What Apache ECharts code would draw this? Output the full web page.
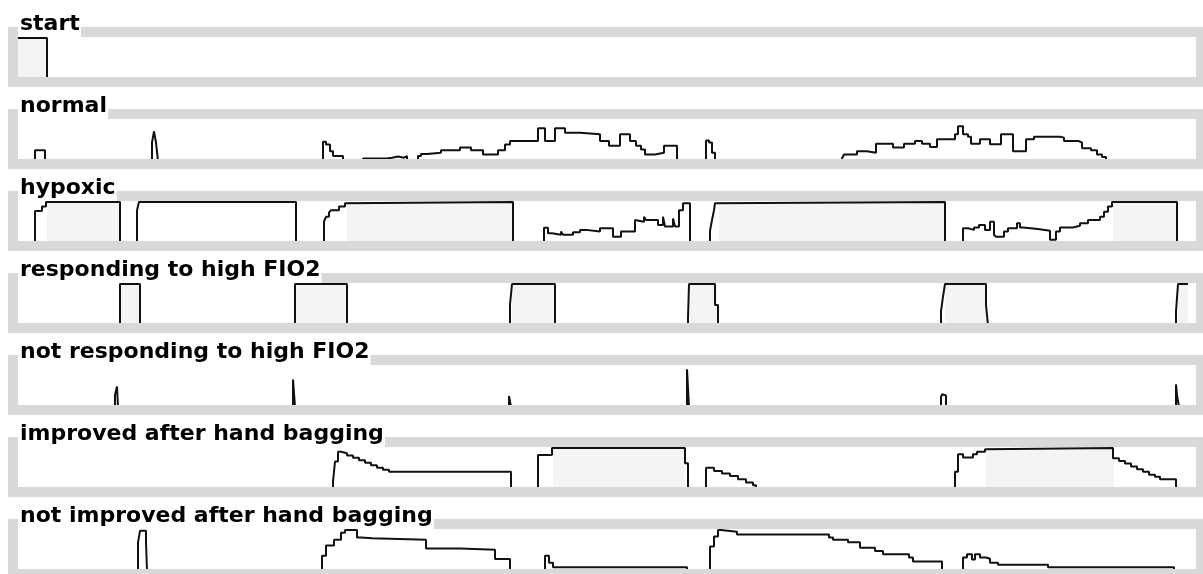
<!DOCTYPE html>
<html><head><meta charset="utf-8">
<script src="https://cdn.jsdelivr.net/npm/echarts@6/dist/echarts.min.js"></script>
<style>html,body{margin:0;padding:0;background:#fff}#c{width:1203px;height:574px}</style>
</head><body><div id="c"></div>
<script>
// ---- data (time units along a shared axis, values 0..1) ----
const timeMax = 1178;
const panelTitles = ["start", "normal", "hypoxic", "responding to high FIO2",
  "not responding to high FIO2", "improved after hand bagging", "not improved after hand bagging"];

const startValues = [[0,1],[29,0]];
const normalValues = [[0,0],[17,0.26],[27,0],
  [134,0.45],[136,0.72],[138,0.45],[140,0],
  [305,0.47],[308,0.4],[312,0.24],[315,0.12],[325,0],
  [345,0.06],[369,0.08],[374,0.11],[380,0.08],[386,0.12],[389,0],
  [400,0.12],[403,0.17],[409,0.2],[423,0.26],[442,0.33],[453,0.26],[465,0.16],[480,0.26],[487,0.4],[492,0.49],
  [520,0.8],[527,0.49],[537,0.8],[547,0.69],[562,0.65],[582,0.49],[591,0.37],[602,0.65],[612,0.49],[618,0.37],
  [623,0.28],[627,0.16],[637,0.2],[646,0.37],[659,0.06],[661,0],
  [688,0.5],[691,0.45],[694,0.2],[697,0],
  [824,0.06],[826,0.16],[839,0.24],[849,0.2],[858,0.42],[875,0.33],[886,0.42],[897,0.49],[904,0.42],[912,0.34],
  [919,0.53],[937,0.65],[940,0.85],[945,0.65],[950,0.59],[953,0.42],[962,0.53],[972,0.41],[983,0.65],[995,0.24],
  [1008,0.53],[1016,0.59],[1042,0.57],[1046,0.49],[1060,0.45],[1064,0.31],[1073,0.26],[1079,0.16],[1084,0.1],[1088,0]];
const hypoxicValues = [[0,0],[17,0.78],[24,0.89],[28,1],[102,0],
  [119,0.8],[121,1],[278,0],
  [306,0.52],[308,0.64],[311,0.74],[313,0.8],[321,0.89],[327,0.97],[329,1],[495,0],
  [526,0.37],[530,0.24],[534,0.2],[543,0.28],[545,0.2],[555,0.26],[562,0.32],[568,0.28],[582,0.36],[595,0.15],
  [603,0.28],[617,0.56],[619,0.52],[626,0.64],[628,0.56],[640,0.44],[645,0.64],[647,0.4],[655,0.6],[657,0.4],
  [661,0.8],[665,0.97],[672,0],
  [692,0.3],[694,0.56],[696,0.8],[697,0.97],[699,1],[927,0],
  [945,0.36],[950,0.32],[956,0.38],[961,0.44],[967,0.32],[972,0.52],[976,0.2],[978,0.15],[986,0.28],[990,0.36],
  [999,0.48],[1002,0.38],[1005,0.34],[1020,0.3],[1032,0.08],[1038,0.28],[1042,0.38],[1055,0.42],[1062,0.48],
  [1070,0.56],[1082,0.64],[1086,0.76],[1090,0.89],[1094,1],[1159,0]];
const respondingValues = [[0,0],[102,1],[122,0],[277,1],[329,0],[492,0.5],[494,1],[537,0],
  [670,0.16],[671,1],[697,0.49],[700,0],[923,0.33],[925,0.69],[927,1],[968,0.49],[970,0],
  [1158,0.33],[1160,1],[1170,1]];
const notRespondingValues = [[0,0],[97,0.3],[99,0.5],[100,0],[275,0.67],[277,0],[491,0.27],[493,0],
  [669,0.92],[671,0],[923,0.24],[924,0.31],[926,0.28],[928,0],[1158,0.55],[1159,0.28],[1161,0]];
const improvedValues = [[0,0],[315,0.18],[317,0.67],[320,0.91],[323,0.87],[329,0.82],[335,0.76],[341,0.7],
  [347,0.64],[353,0.58],[359,0.52],[365,0.47],[371,0.42],[493,0],
  [520,0.83],[534,1],[667,0.63],[670,0],
  [688,0.52],[696,0.44],[704,0.38],[712,0.32],[720,0.24],[728,0.16],[735,0.09],[738,0],
  [937,0.42],[940,0.85],[945,0.77],[955,0.85],[959,0.91],[967,0.97],[968,1],[1095,0.75],[1101,0.68],[1107,0.62],
  [1113,0.55],[1119,0.48],[1125,0.42],[1131,0.35],[1137,0.3],[1142,0.24],[1158,0]];
const notImprovedValues = [[0,0],[120,0.7],[122,0.98],[128,0.7],[129,0],
  [304,0.37],[308,0.62],[316,0.76],[323,0.93],[327,1],[339,0.82],[343,0.8],[354,0.76],[408,0.55],[442,0.52],[477,0.29],[492,0],
  [527,0.37],[531,0.2],[535,0.09],[669,0],
  [692,0.6],[696,0.84],[700,1],[703,0.96],[719,0.89],[811,0.82],[815,0.76],[830,0.7],[842,0.57],[857,0.49],[865,0.41],
  [891,0.33],[895,0.23],[924,0],
  [945,0.33],[949,0.41],[954,0.28],[957,0.41],[962,0.33],[968,0.3],[972,0.2],[980,0.15],[1030,0.09],[1156,0]];

const startFill = [[0,29]];
const normalFill = [];
const hypoxicFill = [[29,102],[329,495],[701,927],[1095,1159]];
const respondingFill = [[102,122],[277,329],[494,537],[672,699],[927,969],[1160,1170]];
const notRespondingFill = [];
const improvedFill = [[535,667],[968,1096]];
const notImprovedFill = [];

// ---- build ----
const panelValues = [startValues, normalValues, hypoxicValues, respondingValues, notRespondingValues, improvedValues, notImprovedValues];
const panelFills = [startFill, normalFill, hypoxicFill, respondingFill, notRespondingFill, improvedFill, notImprovedFill];

const TOP0 = 27, STEP = 82, LEFT = 18, INNER_W = 1178, BAND = 10, OUTER_H = 60;
const FRAME = '#d9d9d9';
const FONT = 'bold 22px "DejaVu Sans"';
const ctx = document.createElement('canvas').getContext('2d');
ctx.font = FONT;

const grids = [], xAxes = [], yAxes = [], series = [], graphics = [];
panelTitles.forEach((title, i) => {
  const top = TOP0 + STEP * i;
  grids.push({left: LEFT, top: top + BAND + 1, width: INNER_W, height: 41});
  xAxes.push({type: 'value', gridIndex: i, min: 0, max: timeMax, show: false});
  yAxes.push({type: 'value', gridIndex: i, min: 0, max: 1, show: false});
  series.push({
    type: 'line', xAxisIndex: i, yAxisIndex: i, data: panelValues[i], step: 'end',
    symbol: 'none', showSymbol: false, silent: true,
    lineStyle: {color: '#111', width: 2},
    markArea: {silent: true, itemStyle: {color: '#f4f4f4'},
      data: panelFills[i].map(([a, b]) => [{xAxis: a}, {xAxis: b}])}
  });
  const fr = {fill: FRAME};
  graphics.push({type: 'rect', z: 100, shape: {x: 8, y: top, width: 1200, height: BAND}, style: fr});
  graphics.push({type: 'rect', z: 100, shape: {x: 8, y: top + OUTER_H - BAND, width: 1200, height: BAND}, style: fr});
  graphics.push({type: 'rect', z: 100, shape: {x: 8, y: top, width: BAND, height: OUTER_H}, style: fr});
  graphics.push({type: 'rect', z: 100, shape: {x: LEFT + INNER_W, y: top, width: BAND, height: OUTER_H}, style: fr});
  const w = ctx.measureText(title).width;
  graphics.push({type: 'rect', z: 101, shape: {x: LEFT, y: top - 20, width: w + 3, height: 30}, style: {fill: '#fff'}});
  graphics.push({type: 'text', z: 102, style: {text: title, x: 20, y: top - 14, font: FONT, fill: '#000',
    verticalAlign: 'top'}});
});

const chart = echarts.init(document.getElementById('c'), null, {renderer: 'canvas'});
chart.setOption({animation: false, grid: grids, xAxis: xAxes, yAxis: yAxes, series: series, graphic: graphics});
</script></body></html>
